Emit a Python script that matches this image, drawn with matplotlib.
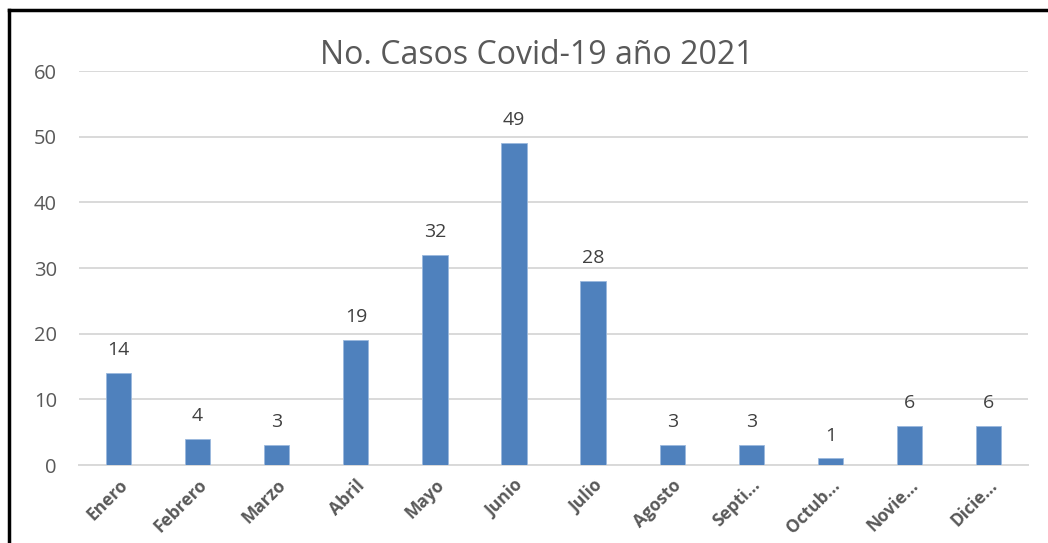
import matplotlib
matplotlib.use("Agg")

import matplotlib.pyplot as plt
from matplotlib.lines import Line2D

# Casos Covid-19 por mes, 2021
MESES = ["Enero", "Febrero", "Marzo", "Abril", "Mayo", "Junio",
         "Julio", "Agosto", "Septi...", "Octub...", "Novie...", "Dicie..."]
CASOS = [14, 4, 3, 19, 32, 49, 28, 3, 3, 1, 6, 6]
Y_TICKS = [0, 10, 20, 30, 40, 50, 60]

TITLE = "No. Casos Covid-19 año 2021"
BAR_COLOR = "#4f81bd"
TEXT_COLOR = "#595959"
GRID_COLOR = "#d9d9d9"

plt.rcParams["font.family"] = ["Open Sans", "DejaVu Sans"]

fig = plt.figure(figsize=(10.48, 5.43), dpi=100)
ax = fig.add_axes([0.0754, 0.1436, 0.9056, 0.7254])

x = range(len(MESES))
bars = ax.bar(x, CASOS, width=0.32, color=BAR_COLOR, edgecolor="#9bb9de",
              linewidth=0.6, zorder=3)

for rect, val in zip(bars, CASOS):
    ax.annotate(str(val),
                (rect.get_x() + rect.get_width() / 2, rect.get_height()),
                xytext=(0, 10), textcoords="offset points",
                ha="center", va="bottom", fontsize=14, color="#404040")

ax.set_xlim(-0.5, len(MESES) - 0.5)
ax.set_ylim(0, 60)
ax.set_yticks(Y_TICKS)
ax.set_xticks(list(x))
ax.set_xticklabels(MESES, rotation=45, ha="right", va="top",
                   rotation_mode="anchor", fontsize=12.5, fontweight="bold",
                   color=TEXT_COLOR)
ax.tick_params(axis="y", length=0, pad=16, labelsize=14.5, labelcolor=TEXT_COLOR)
ax.tick_params(axis="x", length=0, pad=8)

ax.grid(axis="y", color=GRID_COLOR, linewidth=1.4, zorder=0)
for side in ["top", "right", "left"]:
    ax.spines[side].set_visible(False)
ax.spines["bottom"].set_color(GRID_COLOR)
ax.spines["bottom"].set_linewidth(1.4)

fig.text(0.512, 0.897, TITLE, ha="center", va="center", fontsize=23,
         color=TEXT_COLOR)

# black frame on left and top edge
fig.add_artist(Line2D([9 / 1048, 9 / 1048], [0, 1 - 10 / 543],
                      transform=fig.transFigure, color="black", linewidth=2.5))
fig.add_artist(Line2D([9 / 1048, 1], [1 - 10 / 543, 1 - 10 / 543],
                      transform=fig.transFigure, color="black", linewidth=2.5))

fig.savefig("out.png", dpi=100)
